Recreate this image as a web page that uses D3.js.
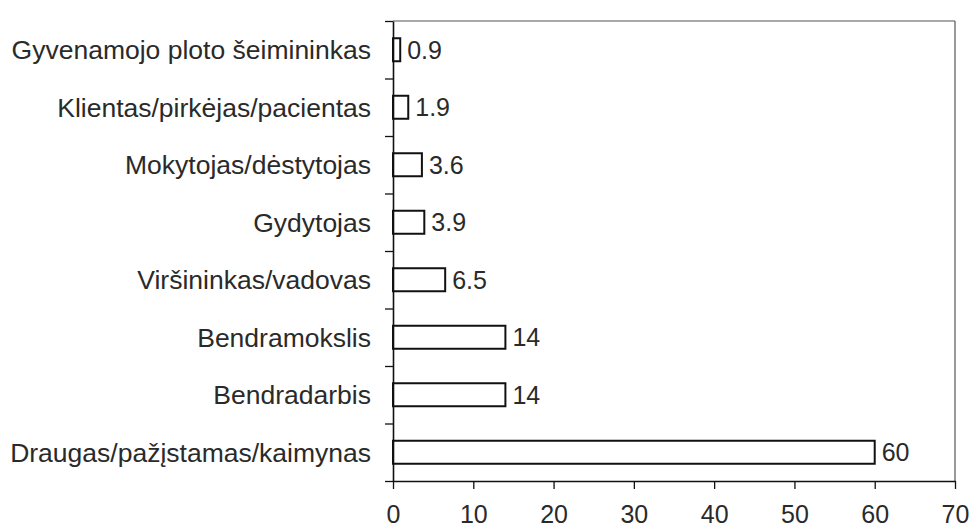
<!DOCTYPE html>
<html>
<head>
<meta charset="utf-8">
<script src="https://cdn.jsdelivr.net/npm/d3@7"></script>
<style>
  body { margin: 0; background: #fff; }
  svg { display: block; }
  text { font-family: "Liberation Sans", Arial, sans-serif; fill: #2a2a2a; }
</style>
</head>
<body>
<div id="chart"></div>
<script>
// categories top to bottom, values in percent
var categories = [
  "Gyvenamojo ploto šeimininkas",
  "Klientas/pirkėjas/pacientas",
  "Mokytojas/dėstytojas",
  "Gydytojas",
  "Viršininkas/vadovas",
  "Bendramokslis",
  "Bendradarbis",
  "Draugas/pažįstamas/kaimynas"
];
var values = [0.9, 1.9, 3.6, 3.9, 6.5, 14, 14, 60];
var valueLabels = ["0.9", "1.9", "3.6", "3.9", "6.5", "14", "14", "60"];
var xTicks = [0, 10, 20, 30, 40, 50, 60, 70];

var width = 969, height = 529;
var margin = {top: 21, right: 14, bottom: 48, left: 393};
var plotW = width - margin.left - margin.right;
var plotH = height - margin.top - margin.bottom;

var svg = d3.select("#chart")
  .append("svg")
  .attr("width", width)
  .attr("height", height);

var g = svg.append("g")
  .attr("transform", "translate(" + margin.left + "," + margin.top + ")");

var x = d3.scaleLinear().domain([0, 70]).range([0, plotW]);
var y = d3.scaleBand().domain(categories).range([0, plotH]).paddingInner(0.6).paddingOuter(0.3);
// boundaries between categories, for the y ticks
var yEdge = d3.scaleLinear().domain([0, categories.length]).range([0, plotH]);

// frame (top + right), thin and grey like the scan
g.append("line")
  .attr("x1", 0).attr("x2", plotW).attr("y1", 0).attr("y2", 0)
  .attr("stroke", "#555").attr("stroke-width", 1.2);
g.append("line")
  .attr("x1", plotW).attr("x2", plotW).attr("y1", 0).attr("y2", plotH)
  .attr("stroke", "#555").attr("stroke-width", 1.2);

// bars
g.selectAll("rect.bar")
  .data(values)
  .enter()
  .append("rect")
  .attr("class", "bar")
  .attr("x", x(0))
  .attr("y", function(d, i){ return y(categories[i]); })
  .attr("width", function(d){ return x(d) - x(0); })
  .attr("height", y.bandwidth())
  .attr("fill", "#fff")
  .attr("stroke", "#111")
  .attr("stroke-width", 2);

// value labels
g.selectAll("text.val")
  .data(values)
  .enter()
  .append("text")
  .attr("class", "val")
  .attr("x", function(d){ return x(d) + 7; })
  .attr("y", function(d, i){ return y(categories[i]) + y.bandwidth() / 2; })
  .attr("dy", "0.36em")
  .attr("font-size", 25)
  .text(function(d, i){ return valueLabels[i]; });

// category labels
g.selectAll("text.cat")
  .data(categories)
  .enter()
  .append("text")
  .attr("class", "cat")
  .attr("x", -22)
  .attr("y", function(d){ return y(d) + y.bandwidth() / 2; })
  .attr("dy", "0.36em")
  .attr("text-anchor", "end")
  .attr("font-size", 26.5)
  .text(function(d){ return d; });

// y axis with ticks between categories
var yAxis = g.append("g")
  .call(d3.axisLeft(yEdge).tickValues(d3.range(categories.length + 1)).tickFormat("").tickSize(8).tickSizeOuter(0));
yAxis.select(".domain").attr("stroke", "#111").attr("stroke-width", 1.6);
yAxis.selectAll(".tick line").attr("stroke", "#111").attr("stroke-width", 1.3);

// x axis
var xAxis = g.append("g")
  .attr("transform", "translate(0," + plotH + ")")
  .call(d3.axisBottom(x).tickValues(xTicks).tickSize(8).tickSizeOuter(0).tickPadding(16));
xAxis.select(".domain").attr("stroke", "#111").attr("stroke-width", 1.6);
xAxis.selectAll(".tick line").attr("stroke", "#111").attr("stroke-width", 1.3);
xAxis.selectAll(".tick text")
  .attr("font-size", 25)
  .attr("font-family", "\"Liberation Sans\", Arial, sans-serif")
  .attr("fill", "#2a2a2a");
</script>
</body>
</html>
